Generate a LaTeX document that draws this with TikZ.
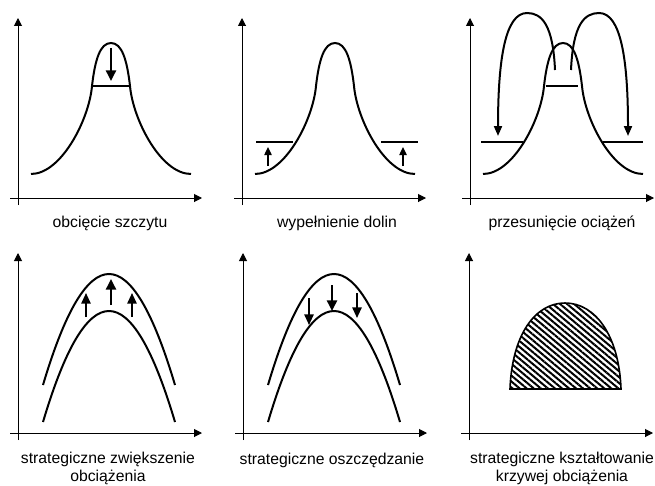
\documentclass[tikz,border=0pt]{standalone}
\usepackage{fontspec}
\setmainfont{Liberation Sans}
\usepackage{tikz}
\usetikzlibrary{arrows.meta,patterns.meta}
\tikzset{
  axis/.style={line width=0.75pt,-{Triangle[length=6pt,width=6pt]}},
  curve/.style={line width=1.5pt},
  level/.style={line width=1.1pt},
  arr/.style={line width=1pt,-{Triangle[length=6pt,width=5.5pt]}},
  sarr/.style={line width=1.3pt,-{Triangle[length=8pt,width=7pt]}},
  barr/.style={line width=1.8pt,-{Triangle[length=8pt,width=7.5pt]}},
  jump/.style={line width=1.5pt,-{Triangle[length=7.5pt,width=6pt]}},
  hatch/.style={line width=1.2pt,pattern={Lines[angle=-40,distance=3.4pt,line width=1.5pt]}},
  lbl/.style={font=\fontsize{11.8}{13.2}\selectfont,align=center,anchor=base,inner sep=0pt}
}
\begin{document}
\begin{tikzpicture}[x=0.75pt,y=-0.75pt]
\useasboundingbox (0,0) rectangle (655,485);
% axes
\foreach \ax/\ay in {18/198,242/198,470/198,18/433,243/433,469/433} {
  \draw[axis] (\ax,\ay+7) -- (\ax,\ay-180);
  \draw[axis] (\ax-8,\ay) -- (\ax+184,\ay);
}
% bell curves
\foreach \c in {111,335,563}
  \draw[curve] (\c-80,174) .. controls (\c-50,174) and (\c-22,120) .. (\c-19,86)
    .. controls (\c-16,60) and (\c-11,43) .. (\c,43)
    .. controls (\c+11,43) and (\c+16,60) .. (\c+19,86)
    .. controls (\c+22,120) and (\c+50,174) .. (\c+80,174);
% obciecie szczytu
\draw[level] (93,86) -- (129,86);
\draw[barr] (111,48) -- (111,81);
% wypelnienie dolin
\draw[level] (256,142) -- (293,142);
\draw[level] (381,142) -- (418,142);
\foreach \x in {268,403} \draw[arr] (\x,166) -- (\x,147);
% przesuniecie
\draw[level] (546,86) -- (578,86);
\draw[level] (481,142) -- (523,142);
\draw[level] (603,142) -- (643,142);
\draw[jump] (555,70) .. controls (553,25) and (542,13) .. (527,13)
  .. controls (505,13) and (498,60) .. (498,136);
\draw[jump] (571,70) .. controls (573,25) and (584,13) .. (599,13)
  .. controls (621,13) and (628,60) .. (628,136);
% parabolas
\foreach \c in {109,334} {
  \draw[curve] (\c-66,385) .. controls (\c-22,237) and (\c+22,237) .. (\c+66,385);
  \draw[curve] (\c-66,422) .. controls (\c-22,274) and (\c+22,274) .. (\c+66,422);
}
\draw[barr] (111,305) -- (111,279);
\foreach \x in {86,132} \draw[sarr] (\x,317) -- (\x,293);
\draw[barr] (332,285) -- (332,311);
\draw[sarr] (309,298) -- (309,325);
\draw[sarr] (357,293) -- (357,318);
% shape
\draw[hatch] (510,389) .. controls (512,335) and (535,303) .. (565,303)
  .. controls (595,303) and (619,335) .. (621,389) -- cycle;
% labels
\node[lbl] (l1) at (110,227) {obcięcie szczytu};
\node[lbl] (l2) at (337,227) {wypełnienie dolin};
\node[lbl] (l3) at (562,227) {przesunięcie ociążeń};
\node[lbl] (l4) at (108,481) {strategiczne zwiększenie\\obciążenia};
\node[lbl] (l5) at (332,464) {strategiczne oszczędzanie};
\node[lbl] (l6) at (562,481) {strategiczne kształtowanie\\krzywej obciążenia};
\end{tikzpicture}
\end{document}
